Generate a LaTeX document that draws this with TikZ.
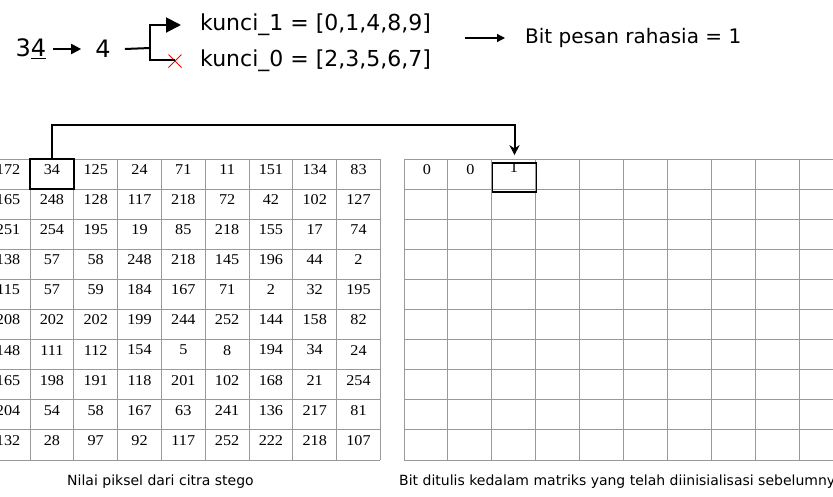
\documentclass[tikz,border=0pt]{standalone}
\usepackage{fontspec}
\setmainfont{DejaVu Sans}
\newfontfamily\serifnum{Liberation Serif}
\usetikzlibrary{arrows.meta,shapes.misc}
\newcommand{\wnum}[1]{\scalebox{1.08}[1]{#1}}
\begin{document}
\begin{tikzpicture}[x=1pt,y=-1pt,
  gridline/.style={draw=gray!80,line width=1pt},
  num/.style={font=\serifnum\fontsize{15}{15}\selectfont,inner sep=0pt},
  hlbox/.style={draw=black,line width=1.6pt,inner sep=0pt,minimum width=43.8pt,minimum height=30pt},
  bigtxt/.style={font=\fontsize{22}{26}\selectfont,inner sep=0pt},
  numtxt/.style={font=\fontsize{24}{28}\selectfont,inner sep=0pt},
  midtxt/.style={font=\fontsize{20}{24}\selectfont,inner sep=0pt},
  captxt/.style={font=\fontsize{14}{17}\selectfont,inner sep=0pt},
  conn/.style={line width=2pt},
  tip/.style={-{Stealth[length=10pt,width=10pt]}},
  bigtip/.style={-{Triangle[length=15pt,width=15pt]}}]
\useasboundingbox[fill=white] (0,0) rectangle (833,496);

% left grid
\foreach \i in {0,...,10} \draw[gridline] (-14,{159+30.1*\i}) -- (380.4,{159+30.1*\i});
\foreach \k in {-1,...,8} \draw[gridline] ({30+43.8*\k},159) -- ({30+43.8*\k},460);
\foreach \row [count=\r from 0] in {
  {172,34,125,24,71,11,151,134,83},
  {165,248,128,117,218,72,42,102,127},
  {251,254,195,19,85,218,155,17,74},
  {138,57,58,248,218,145,196,44,2},
  {115,57,59,184,167,71,2,32,195},
  {208,202,202,199,244,252,144,158,82},
  {148,111,112,154,5,8,194,34,24},
  {165,198,191,118,201,102,168,21,254},
  {204,54,58,167,63,241,136,217,81},
  {132,28,97,92,117,252,222,218,107}} {
  \foreach \v [count=\c from 0] in \row {
    \node[num] (L-\r-\c) at ({8.1+43.8*\c},{169.5+30.1*\r}) {\wnum{\v}};
  }
}

% right grid
\foreach \i in {0,...,10} \draw[gridline] (404,{159+30.1*\i}) -- (843,{159+30.1*\i});
\foreach \k in {0,...,10} \draw[gridline] ({404+43.9*\k},159) -- ({404+43.9*\k},460);
\node[num] (R-0-0) at (427,170) {\wnum{0}};
\node[num] (R-0-1) at (470.5,170) {\wnum{0}};
\node[num] (R-0-2) at (514,168) {\wnum{1}};

% highlight boxes
\node[hlbox] (hlL) at (51.9,174.1) {};
\node[hlbox,minimum height=29pt] (hlR) at (514.5,177.5) {};
\draw[conn,tip] (hlL.north) -- ++(0,-33) -| ([yshift=7pt]hlR.north);

% top formula
\node[numtxt] (n34) at (31,49) {3\underline{4}};
\node[numtxt] (n4) at (103,49) {4};
\draw[conn,-{Triangle[length=10pt,width=10pt]}] ([xshift=7pt]n34.east) -- ([xshift=-14pt]n4.west);
\coordinate (br) at (150,48);
\draw[conn] ([xshift=14pt]n4.east) -- (br);
\node[bigtxt,anchor=west] (k1) at (200,25) {kunci\_1 = [0,1,4,8,9]};
\node[bigtxt,anchor=west] (k0) at (200,61) {kunci\_0 = [2,3,5,6,7]};
\node[cross out,draw=red,line width=1pt,minimum size=12pt,inner sep=0pt] (xm) at (175,61) {};
\draw[conn,bigtip] (br) |- ([xshift=-19pt]k1.west);
\draw[line width=1.5pt] (br) |- (xm.center |- 0,60);
\coordinate (s) at (465,38);
\node[midtxt,anchor=west] (bit) at (525,38) {Bit pesan rahasia = 1};
\draw[line width=1.3pt,-{Triangle[length=8pt,width=8pt]}] (s) -- ([xshift=-20pt]bit.west);

% captions
\node[captxt] (cap1) at (160.5,482) {Nilai piksel dari citra stego};
\node[captxt,anchor=west] (cap2) at (399,482) {Bit ditulis kedalam matriks yang telah diinisialisasi sebelumnya};
\end{tikzpicture}
\end{document}
